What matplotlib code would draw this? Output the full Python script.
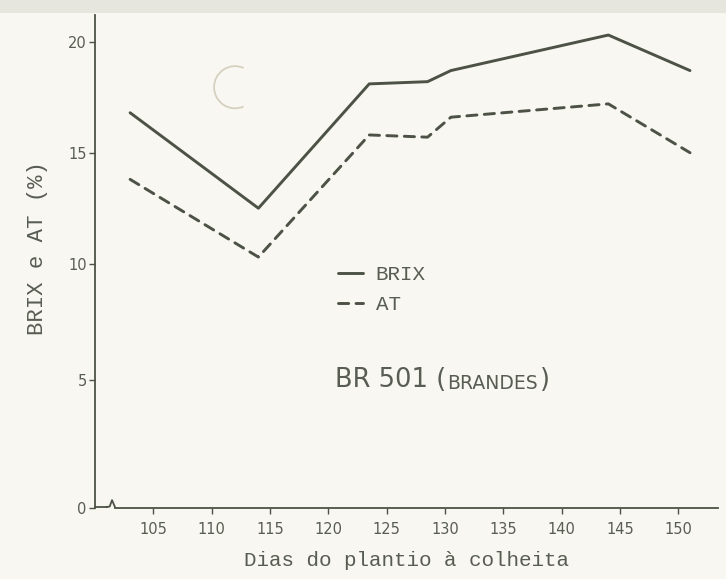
import matplotlib
matplotlib.use("Agg")
import matplotlib.pyplot as plt
from matplotlib.patches import Arc, Rectangle
import numpy as np

# days from planting to harvest and the two series (%)
dias = [103, 114, 123.5, 128.5, 130.5, 144, 151]
brix = [16.8, 12.5, 18.1, 18.2, 18.7, 20.3, 18.7]
at = [13.8, 10.3, 15.8, 15.7, 16.6, 17.2, 15.0]

x_ticks = [105, 110, 115, 120, 125, 130, 135, 140, 145, 150]
y_ticks = [0, 5, 10, 15, 20]

# the ordinate was ruled by hand, so its divisions are not evenly spaced
ruled_vals = np.array([-5, 0, 5, 10, 15, 20, 25])
ruled_pos = np.array([-128, 0, 128, 244, 355, 466, 577], dtype=float)


def to_ruled(v):
    return np.interp(v, ruled_vals, ruled_pos)


def from_ruled(p):
    return np.interp(p, ruled_pos, ruled_vals)


paper = "#f8f7f1"
ink = "#4c5246"
text_ink = "#585d53"

fig = plt.figure(figsize=(7.26, 5.79), dpi=100, facecolor=paper)
ax = fig.add_axes([0.131, 0.123, 0.858, 0.851], facecolor=paper)
ax.set_yscale("function", functions=(to_ruled, from_ruled))

# faint grey band along the top edge of the sheet
fig.patches.append(Rectangle((0, 0.978), 1, 0.022, transform=fig.transFigure,
                             facecolor="#e6e6df", edgecolor="none"))

ax.plot(dias, brix, color=ink, lw=2.1, solid_capstyle="round",
        solid_joinstyle="round", label="BRIX")
ax.plot(dias, at, color=ink, lw=2.1, linestyle=(0, (3.5, 2.5)),
        dash_capstyle="round", label="AT")

ax.set_xlim(100, 153.4)
ax.set_ylim(0, 21.2)
ax.set_xticks(x_ticks)
ax.set_yticks(y_ticks)
ax.set_xticklabels([str(v) for v in x_ticks])
ax.set_yticklabels([str(v) for v in y_ticks])
ax.minorticks_off()

for side in ("top", "right"):
    ax.spines[side].set_visible(False)
for side in ("left", "bottom"):
    ax.spines[side].set_color(ink)
    ax.spines[side].set_linewidth(1.3)
ax.spines["bottom"].set_bounds(101.7, 153.4)

ax.tick_params(axis="both", direction="out", length=4, width=1.0,
               color=ink, labelcolor=text_ink, labelsize=10.5)
ax.tick_params(axis="x", pad=6)
ax.tick_params(axis="y", pad=2)

# axis break near the origin
ax.plot([100, 101.0], [0.03, 0.03], color=ink, lw=1.3, clip_on=False)
ax.plot([101.0, 101.25, 101.45, 101.7], [0.03, 0.05, 0.3, 0.03],
        color=ink, lw=1.3, clip_on=False)

ax.set_xlabel("Dias do plantio à colheita", family="Liberation Mono",
              fontsize=15, color=text_ink, labelpad=10)
ax.set_ylabel("BRIX e AT (%)", family="Liberation Mono",
              fontsize=16, color=text_ink)
ax.yaxis.set_label_coords(-0.076, 0.527)

leg = ax.legend(loc="upper left", bbox_to_anchor=(0.36, 0.53), frameon=False,
                handlelength=1.2, handletextpad=0.6, labelspacing=0.5,
                prop={"family": "Liberation Mono", "size": 15})
for t in leg.get_texts():
    t.set_color(text_ink)

t1 = ax.text(0.385, 0.245, "BR 501 (", fontsize=18.5, color=text_ink,
             family="DejaVu Sans", va="baseline", transform=ax.transAxes)
t2 = ax.annotate("BRANDES", xy=(1, 0), xycoords=t1, xytext=(1, 0),
                 textcoords="offset points", fontsize=13.5, color=text_ink,
                 family="DejaVu Sans", va="bottom")
ax.annotate(")", xy=(1, 0), xycoords=t2, xytext=(1, 0),
            textcoords="offset points", fontsize=18.5, color=text_ink,
            family="DejaVu Sans", va="bottom")

# small ring mark on the sheet
ax.add_patch(Arc((112.0, 17.95), 3.6, 1.9, theta1=50, theta2=310,
                 color="#d6d0c0", lw=1.3))

fig.savefig("out.png", dpi=100, facecolor=paper)
